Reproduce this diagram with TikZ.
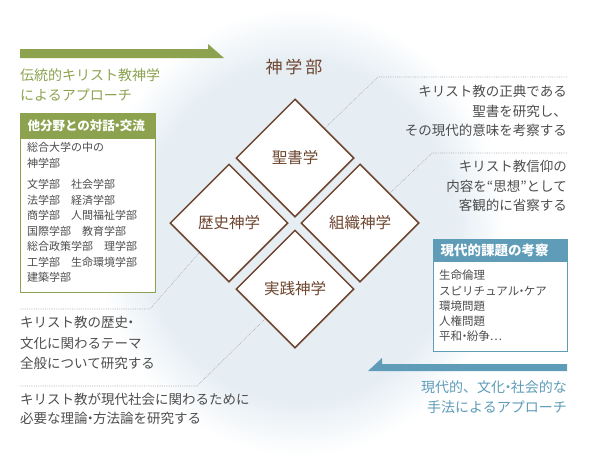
\documentclass[tikz,border=0pt]{standalone}
\usepackage{fontspec}
\setmainfont{Noto Sans CJK JP}
\usetikzlibrary{shapes.geometric,positioning}
\definecolor{brn}{HTML}{6E4630}
\definecolor{grn}{HTML}{8CA24F}
\definecolor{blu}{HTML}{5E9CB8}
\definecolor{txt}{HTML}{4D4D4D}
\definecolor{bgc}{HTML}{E6EEF4}
\pgfdeclareradialshading{glow}{\pgfpoint{0bp}{0bp}}{color(0bp)=(bgc); color(19bp)=(bgc); color(25bp)=(white); color(50bp)=(white)}
\newcommand{\nd}{\kern-.3em・\kern-.3em}

\begin{document}
\begin{tikzpicture}[x=1pt, y=-1pt,
  every node/.style={inner sep=0pt, text=txt},
  fac/.style={draw=brn, line width=1.5pt, fill=white, diamond, aspect=1,
              minimum width=118pt, minimum height=118pt, text=brn,
              font=\fontsize{15.5}{18}\selectfont},
  note/.style={align=#1, font=\fontsize{13.5}{20}\selectfont},
  hdr/.style={fill=#1, draw=#1, line width=1pt, text=white, align=left,
              font=\bfseries\fontsize{12.5}{14}\selectfont, inner xsep=7pt},
  frame/.style={draw=#1, line width=1pt, fill=white},
  lead/.style={draw=gray!70, line width=0.6pt, dash pattern=on 0.7pt off 1.1pt}]

\useasboundingbox (0,0) rectangle (592,458);

%% ---- background glow ----
\shade[shading=glow] (95,8) rectangle (505,456);

%% ---- approach arrows ----
\fill[grn] (20,49) -- (208,49) -- (208,44) -- (224,58) -- (20,58) -- cycle;
\fill[blu] (567,364) -- (382,364) -- (382,358) -- (368,371) -- (567,371) -- cycle;

\node[note=left, anchor=west, text=grn, font=\fontsize{14}{20}\selectfont] (trad) at (20,85)
  {伝統的キリスト教神学\\によるアプローチ};
\node[note=right, anchor=east, text=blu, font=\fontsize{14}{20}\selectfont] (modn) at (567,397)
  {現代的、文化\nd 社会的な\\手法によるアプローチ};

%% ---- title + four fields ----
\node[text=brn, font=\fontsize{17}{20}\selectfont] (dept) at (294,67) {神\kern3pt 学\kern3pt 部};
\node[fac] (sho) at (295,158) {聖書学};
\node[fac] (rek) at (229,223) {歴史神学};
\node[fac] (sos) at (360,223) {組織神学};
\node[fac] (jis) at (295,289) {実践神学};

%% ---- dialogue box (left) ----
\node[hdr=grn, anchor=north west, text width=121pt, minimum height=24pt] (dlgH) at (20,113) {他分野との対話\nd 交流};
\node[frame=grn, anchor=north west, minimum width=135pt, minimum height=154pt] (dlgB) at (dlgH.south west) {};
\node[align=left, anchor=north west, font=\fontsize{11}{15.5}\selectfont] (dlgT) at (27,142.5)
  {総合大学の中の\\神学部\\[6pt]文学部　社会学部\\法学部　経済学部\\商学部　人間福祉学部\\国際学部　教育学部\\総合政策学部　理学部\\工学部　生命環境学部\\建築学部};

%% ---- issues box (right) ----
\node[hdr=blu, anchor=north west, text width=120pt, minimum height=21pt,
      font=\bfseries\fontsize{13.5}{15}\selectfont] (issH) at (433,239) {現代的課題の考察};
\node[frame=blu, anchor=north west, minimum width=134pt, minimum height=90pt] (issB) at (issH.south west) {};
\node[align=left, anchor=north west, font=\fontsize{11.5}{15.25}\selectfont] (issT) at (439,270)
  {生命倫理\\スピリチュアル\nd ケア\\環境問題\\人権問題\\平和\nd 紛争…};

%% ---- descriptions ----
\node[note=right, anchor=east, font=\fontsize{13.5}{19.5}\selectfont] (bibT) at (567,111)
  {キリスト教の正典である\\聖書を研究し、\\その現代的意味を考察する};
\node[note=right, anchor=east, font=\fontsize{13.5}{19.5}\selectfont] (sysT) at (567,186)
  {キリスト教信仰の\\内容を“思想”として\\客観的に省察する};
\node[note=left, anchor=west, font=\fontsize{13.5}{20.5}\selectfont] (hisT) at (20,343)
  {キリスト教の歴史\nd\\文化に関わるテーマ\\全般について研究する};
\node[note=left, anchor=west, font=\fontsize{13.5}{18.5}\selectfont] (praT) at (20,409)
  {キリスト教が現代社会に関わるために\\必要な理論\nd 方法論を研究する};

%% ---- leader lines ----
\coordinate (bibR) at (567,77);  \coordinate (bibK) at (378,77);
\coordinate (sysR) at (567,153); \coordinate (sysK) at (432,153);
\coordinate (hisL) at (20,309);  \coordinate (hisK) at (150,309);
\coordinate (praL) at (20,386);  \coordinate (praK) at (197,386);
\draw[lead] (bibR) -- (bibK) -- (sho.north east);
\draw[lead] (sysR) -- (sysK) -- (sos.north east);
\draw[lead] (hisL) -- (hisK) -- (rek.south west);
\draw[lead] (praL) -- (praK) -- (jis.south west);
\end{tikzpicture}
\end{document}
